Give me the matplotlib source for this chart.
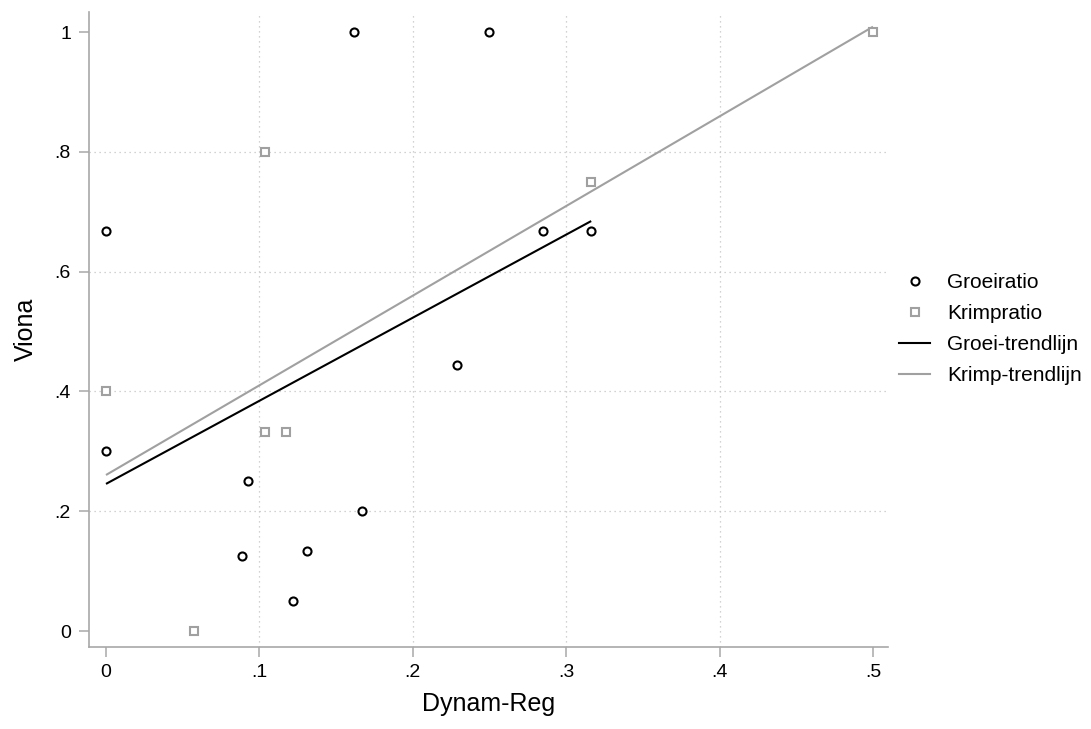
import matplotlib
matplotlib.use("Agg")
import matplotlib.pyplot as plt
import numpy as np
from matplotlib.lines import Line2D

plt.rcParams['font.family'] = ['Liberation Sans', 'DejaVu Sans']

# ---- data ----
groei_x = [0.0, 0.0, 0.0886, 0.0926, 0.1219, 0.1310, 0.1617, 0.1667, 0.2290, 0.2497, 0.2850, 0.3163]
groei_y = [0.667, 0.300, 0.125, 0.250, 0.050, 0.133, 1.000, 0.200, 0.444, 1.000, 0.667, 0.667]
krimp_x = [0.0, 0.0574, 0.1034, 0.1034, 0.1173, 0.3163, 0.5]
krimp_y = [0.400, 0.000, 0.800, 0.333, 0.333, 0.750, 1.000]

x_ticks = [0, 0.1, 0.2, 0.3, 0.4, 0.5]
x_ticklabels = ['0', '.1', '.2', '.3', '.4', '.5']
y_ticks = [0, 0.2, 0.4, 0.6, 0.8, 1.0]
y_ticklabels = ['0', '.2', '.4', '.6', '.8', '1']

labels = ['Groeiratio', 'Krimpratio', 'Groei-trendlijn', 'Krimp-trendlijn']
x_label = 'Dynam-Reg'
y_label = 'Viona'

BLACK = '#000000'
GREY = '#a0a0a0'
AXC = '#a8a8a8'
GRIDC = '#c4c4c4'

W, H = 1091, 729
fig = plt.figure(figsize=(W / 100, H / 100), dpi=100)
ax = fig.add_axes([89 / W, 1 - 647 / H, (888 - 89) / W, (647 - 12) / H])

ax.set_xlim(-0.01108, 0.5098)
ax.set_ylim(-0.0267, 1.0334)

# grid (interior ticks only)
for yv in y_ticks[1:-1]:
    ax.axhline(yv, color=GRIDC, lw=0.9, ls=(0, (1, 3)), zorder=0)
for xv in x_ticks[1:-1]:
    ax.axvline(xv, color=GRIDC, lw=0.9, ls=(0, (1, 3)), zorder=0)

# trend lines (OLS fits over each series' x range)
gx = np.array(groei_x); gy = np.array(groei_y)
kx = np.array(krimp_x); ky = np.array(krimp_y)
gb, ga = np.polyfit(gx, gy, 1)
kb, ka = np.polyfit(kx, ky, 1)
gxx = np.array([gx.min(), gx.max()])
kxx = np.array([kx.min(), kx.max()])
ax.plot(gxx, ga + gb * gxx, color=BLACK, lw=1.5, zorder=2, solid_capstyle='butt')
ax.plot(kxx, ka + kb * kxx, color=GREY, lw=1.5, zorder=2, solid_capstyle='butt')

# scatter points
ax.plot(groei_x, groei_y, ls='none', marker='o', ms=5.8, mew=1.5,
        mec=BLACK, mfc='white', zorder=3)
ax.plot(krimp_x, krimp_y, ls='none', marker='s', ms=5.6, mew=1.5,
        mec=GREY, mfc='white', zorder=3)

# axes styling
for s in ['top', 'right']:
    ax.spines[s].set_visible(False)
for s in ['left', 'bottom']:
    ax.spines[s].set_color(AXC)
    ax.spines[s].set_linewidth(1.2)

ax.set_xticks(x_ticks)
ax.set_xticklabels(x_ticklabels)
ax.set_yticks(y_ticks)
ax.set_yticklabels(y_ticklabels)
ax.tick_params(axis='both', direction='out', length=7, width=1.1, color=AXC,
               labelsize=14, labelcolor='black')
ax.tick_params(axis='y', pad=6)
ax.tick_params(axis='x', pad=5)

ax.set_xlabel(x_label, fontsize=18, labelpad=8)
ax.set_ylabel(y_label, fontsize=18, labelpad=12)

# legend
handles = [
    Line2D([], [], ls='none', marker='o', ms=5.8, mew=1.5, mec=BLACK, mfc='white'),
    Line2D([], [], ls='none', marker='s', ms=5.6, mew=1.5, mec=GREY, mfc='white'),
    Line2D([], [], color=BLACK, lw=1.5),
    Line2D([], [], color=GREY, lw=1.5),
]
fig.legend(handles, labels, loc='center left', bbox_to_anchor=(899 / W, 1 - 329 / H),
           frameon=False, fontsize=15, borderpad=0, borderaxespad=0,
           handlelength=1.5, handletextpad=0.8, labelspacing=0.58)

fig.savefig('out.png', dpi=100)
